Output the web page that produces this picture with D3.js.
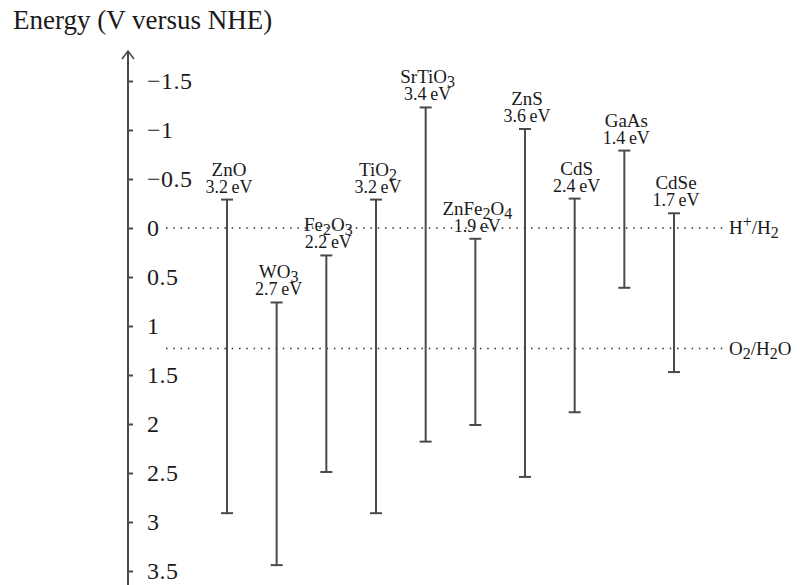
<!DOCTYPE html>
<html>
<head>
<meta charset="utf-8">
<script src="https://cdn.jsdelivr.net/npm/d3@7"></script>
<style>
  body { margin: 0; background: #fff; }
  text { font-family: "Liberation Serif", "DejaVu Serif", serif; fill: #1a1a1a; }
</style>
</head>
<body>
<svg id="chart" width="804" height="585"></svg>
<script>
const materials = ["ZnO", "WO3", "Fe2O3", "TiO2", "SrTiO3", "ZnFe2O4", "ZnS", "CdS", "GaAs", "CdSe"];
const bandGaps = ["3.2", "2.7", "2.2", "3.2", "3.4", "1.9", "3.6", "2.4", "1.4", "1.7"];
const conductionBand = [-0.29, 0.76, 0.28, -0.29, -1.23, 0.11, -1.01, -0.3, -0.79, -0.15];
const valenceBand = [2.91, 3.44, 2.49, 2.91, 2.18, 2.01, 2.54, 1.88, 0.61, 1.47];
const tickValues = [-1.5, -1, -0.5, 0, 0.5, 1, 1.5, 2, 2.5, 3, 3.5];
const redoxLevels = [0, 1.23];
const redoxLabels = [
  [["H", 0], ["+", 1], ["/H", 0], ["2", -1]],
  [["O", 0], ["2", -1], ["/H", 0], ["2", -1], ["O", 0]],
];

const svg = d3.select("#chart");
const ink = "#4a4a4a";

const x = d3.scalePoint().domain(materials).range([227, 674]);
const y = d3.scaleLinear().domain([-1.5, 3.5]).range([81, 571]);

svg.append("text")
  .attr("x", 13)
  .attr("y", 29)
  .style("font-size", "27px")
  .text("Energy (V versus NHE)");

// axis
const axisX = 128;
svg.append("line")
  .attr("x1", axisX).attr("x2", axisX)
  .attr("y1", 51).attr("y2", 585)
  .attr("stroke", ink).attr("stroke-width", 2);
svg.append("path")
  .attr("d", `M${axisX - 6},${59} L${axisX},${51} L${axisX + 6},${59}`)
  .attr("fill", "none").attr("stroke", ink).attr("stroke-width", 1.6);

const axis = svg.append("g")
  .attr("transform", `translate(${axisX},0)`)
  .call(d3.axisRight(y).tickValues(tickValues).tickSize(5).tickPadding(14)
    .tickFormat(d3.format("")));
axis.select(".domain").remove();
axis.selectAll(".tick line").attr("stroke", ink).attr("stroke-width", 2);
axis.selectAll(".tick text")
  .style("font-family", "'Liberation Serif', serif")
  .style("font-size", "24px")
  .style("letter-spacing", "0.5px")
  .attr("fill", "#1a1a1a");

// redox reference lines
svg.append("g")
  .selectAll("line")
  .data(redoxLevels)
  .enter()
  .append("line")
  .attr("x1", 166).attr("x2", 724)
  .attr("y1", d => y(d)).attr("y2", d => y(d))
  .attr("stroke", "#333")
  .attr("stroke-width", 1.5)
  .attr("stroke-dasharray", "1.5,5.8");

// parts: [string, shift] with shift -1 subscript, 1 superscript, 0 normal
function writeParts(textSel, parts, size) {
  let offset = 0;
  parts.forEach(([s, shift]) => {
    const target = shift === -1 ? 4 : shift === 1 ? -7 : 0;
    textSel.append("tspan")
      .attr("dy", target - offset)
      .style("font-size", shift === 0 ? `${size}px` : `${size - 3}px`)
      .text(s);
    offset = target;
  });
}

redoxLevels.forEach((v, i) => {
  const t = svg.append("text")
    .attr("x", 729)
    .attr("y", y(v) + 6)
    .style("font-size", "19px");
  writeParts(t, redoxLabels[i], 19);
});

// band edges
const data = materials.map((name, i) => ({
  name, gap: bandGaps[i], cb: conductionBand[i], vb: valenceBand[i],
}));

const bars = svg.append("g")
  .selectAll("g")
  .data(data)
  .enter()
  .append("g");

bars.append("line")
  .attr("x1", d => x(d.name)).attr("x2", d => x(d.name))
  .attr("y1", d => y(d.cb)).attr("y2", d => y(d.vb))
  .attr("stroke", ink).attr("stroke-width", 2);

bars.selectAll(".cap")
  .data(d => [[d.name, d.cb], [d.name, d.vb]])
  .enter()
  .append("line")
  .attr("class", "cap")
  .attr("x1", d => x(d[0]) - 6).attr("x2", d => x(d[0]) + 6)
  .attr("y1", d => y(d[1])).attr("y2", d => y(d[1]))
  .attr("stroke", ink).attr("stroke-width", 2);

bars.each(function (d) {
  const g = d3.select(this);
  const name = g.append("text")
    .attr("x", x(d.name) + 2)
    .attr("y", y(d.cb) - 24)
    .attr("text-anchor", "middle")
    .style("font-size", "19px");
  const parts = d.name.split(/(\d+)/).filter(s => s).map(s => [s, /\d/.test(s) ? -1 : 0]);
  writeParts(name, parts, 19);
  g.append("text")
    .attr("x", x(d.name) + 2)
    .attr("y", y(d.cb) - 7)
    .attr("text-anchor", "middle")
    .style("font-size", "18px")
    .text(`${d.gap}\u2009eV`);
});
</script>
</body>
</html>
